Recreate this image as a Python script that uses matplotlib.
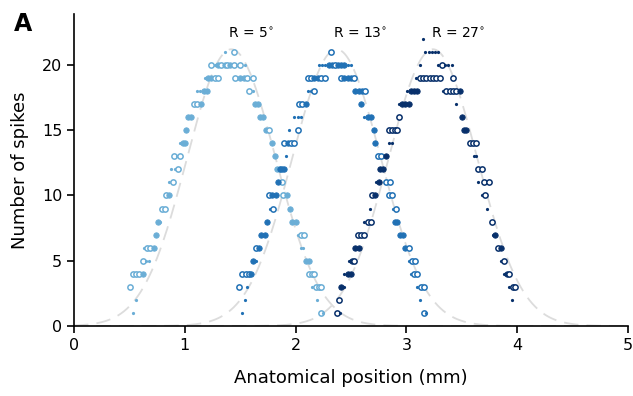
import numpy as np
import matplotlib
matplotlib.use("Agg")
import matplotlib.pyplot as plt

# ---------------- data ----------------
labels = ["R = 5$^{\\circ}$", "R = 13$^{\\circ}$", "R = 27$^{\\circ}$"]
colors = ["#6baed6", "#2171b5", "#08306b"]
label_x = [1.60, 2.58, 3.47]
label_y = 22.4

# tuning-curve parameters (peak position, amplitude, width)
curve_center = [1.42, 2.37, 3.24]
curve_amp = [21.2, 21.2, 21.2]
curve_width = [0.40, 0.40, 0.40]

# spike-count observations: y level, x positions, marker style ('.' dot, 'f' filled, 'o' hollow)
r5_y = [21, 20, 19, 18, 17, 16, 15, 14, 13, 12, 11, 10, 9, 8, 7, 6, 5, 4, 3, 2, 1]
r5_x = [
    [1.36, 1.44],
    [1.24, 1.27, 1.30, 1.33, 1.36, 1.38, 1.41, 1.44, 1.47, 1.50, 1.54],
    [1.18, 1.21, 1.24, 1.27, 1.30, 1.45, 1.50, 1.53, 1.56, 1.59, 1.62],
    [1.11, 1.14, 1.17, 1.20, 1.58, 1.62],
    [1.08, 1.11, 1.15, 1.63, 1.66],
    [1.03, 1.06, 1.68, 1.71],
    [1.01, 1.73, 1.76],
    [0.96, 0.98, 1.00, 1.79],
    [0.90, 0.93, 0.96, 1.81],
    [0.88, 0.91, 0.94, 1.83, 1.86],
    [0.86, 0.89, 1.88],
    [0.83, 0.86, 1.89, 1.92],
    [0.79, 0.82, 1.95],
    [0.76, 0.78, 1.97, 2.00],
    [0.74, 2.02, 2.05, 2.08],
    [0.63, 0.66, 0.69, 0.72, 2.05, 2.07],
    [0.62, 0.65, 0.68, 2.09, 2.12],
    [0.53, 0.56, 0.59, 0.62, 2.12, 2.15, 2.17],
    [0.51, 2.15, 2.18, 2.21, 2.23],
    [0.56, 2.19],
    [0.53, 2.23, 2.25],
]
r5_m = [".o", "o.fofofo.o.", ".ffoooffo.o", "..ffo.", "ooff" + "f", "ffff", "ffo",
        ".fff", "o.of", "..off", ".oo", "ofof", "oof", "f.ff", "f.oo", ".oof..", "o..ff", "ooofooo",
        "o.ooo", "..", ".o."]

r13_y = [21, 20, 19, 18, 17, 16, 15, 14, 13, 12, 11, 10, 9, 8, 7, 6, 5, 4, 3, 2, 1]
r13_x = [
    [2.32],
    [2.21, 2.24, 2.27, 2.30, 2.33, 2.36, 2.38, 2.41, 2.44, 2.47, 2.50],
    [2.11, 2.14, 2.17, 2.20, 2.23, 2.27, 2.41, 2.44, 2.47, 2.50, 2.53],
    [2.11, 2.14, 2.17, 2.54, 2.57, 2.60, 2.63],
    [2.03, 2.06, 2.09, 2.59],
    [1.99, 2.02, 2.05, 2.62, 2.65, 2.68],
    [1.94, 2.02, 2.71],
    [1.90, 1.93, 1.96, 1.99, 2.72],
    [1.91, 2.74, 2.77],
    [1.86, 1.88, 1.90, 2.78],
    [1.84, 2.82, 2.85],
    [1.76, 1.79, 1.82, 2.84, 2.87],
    [1.77, 1.80, 2.88, 2.91],
    [1.74, 2.90, 2.92],
    [1.69, 1.72, 2.94, 2.97],
    [1.64, 1.67, 2.99, 3.02],
    [1.62, 1.64, 3.02, 3.05, 3.08],
    [1.52, 1.55, 1.58, 1.60, 3.04, 3.07, 3.10],
    [1.49, 1.56, 3.10, 3.13, 3.16],
    [1.54, 3.12],
    [1.52, 3.16, 3.18],
]
r13_m = ["o", "...ffofff..", "ooffooofffo", "..offfo", "ooff", "....ff", ".of",
         "ofoof", ".oo", "fff.", "foo", "offoo", ".o.o", "fff", "ffff", "offo", "f..oo",
         "ooof.oo", "o..oo", "..", ".o."]

r27_y = [22, 21, 20, 19, 18, 17, 16, 15, 14, 13, 12, 11, 10, 9, 8, 7, 6, 5, 4, 3, 2, 1]
r27_x = [
    [3.15],
    [3.17, 3.20, 3.23, 3.26, 3.29],
    [3.12, 3.29, 3.32, 3.35, 3.38, 3.41],
    [3.09, 3.12, 3.15, 3.18, 3.21, 3.24, 3.27, 3.30, 3.42],
    [3.01, 3.04, 3.07, 3.10, 3.33, 3.36, 3.39, 3.42, 3.45, 3.48],
    [2.93, 2.96, 2.99, 3.02, 3.45],
    [2.93, 3.50],
    [2.84, 2.87, 2.90, 2.92, 3.52, 3.54],
    [2.84, 2.87, 3.57, 3.60, 3.63],
    [2.82, 3.61, 3.63],
    [2.76, 2.79, 3.65, 3.68],
    [2.73, 2.75, 3.65, 3.70, 3.75],
    [2.69, 2.72, 3.68, 3.71],
    [2.67, 3.73],
    [2.62, 2.65, 2.68, 3.77],
    [2.56, 2.59, 2.62, 3.78, 3.80],
    [2.54, 2.57, 3.83, 3.85],
    [2.48, 2.51, 2.53, 3.85, 3.88],
    [2.44, 2.47, 2.50, 3.88, 3.91, 3.93],
    [2.41, 2.44, 3.93, 3.96, 3.98],
    [2.39, 3.95],
    [2.37, 2.40],
]
r27_m = [".", ".....", "..o...", ".oooooooo.", ".fff.oooof", ".fff.", "of", "ooooff", "..ooo",
         "f..", "ffoo", ".f.oo", "of.o", "..", ".ooo", "ooo.f", "ffof", ".fo.o", ".ff.fo",
         "f..oo", "o.", "o."]

tick_x = [0, 1, 2, 3, 4, 5]
tick_y = [0, 5, 10, 15, 20]

# ---------------- drawing ----------------
fig = plt.figure(figsize=(6.33, 3.96), dpi=100)
ax = fig.add_axes([0.1169, 0.1768, 0.8751, 0.7878])

xs = np.linspace(0, 5, 400)
for c, a, w in zip(curve_center, curve_amp, curve_width):
    ax.plot(xs, a * np.exp(-(xs - c) ** 2 / (2 * w ** 2)), color="#dcdcdc",
            lw=1.3, dashes=(8, 4.5), zorder=1)

def draw(ys, xss, ms, color):
    for y, xl, mk in zip(ys, xss, ms):
        for x, s in zip(xl, mk):
            if s == ".":
                ax.plot([x], [y], "o", ms=2.3, mfc=color, mec=color, mew=0, zorder=3)
            elif s == "f":
                ax.plot([x], [y], "o", ms=3.9, mfc=color, mec=color, mew=0.6, zorder=3)
            else:
                ax.plot([x], [y], "o", ms=3.8, mfc="white", mec=color, mew=1.1, zorder=3)

draw(r5_y, r5_x, r5_m, colors[0])
draw(r13_y, r13_x, r13_m, colors[1])
draw(r27_y, r27_x, r27_m, colors[2])

for lx, lab in zip(label_x, labels):
    ax.text(lx, label_y, lab, ha="center", va="center", fontsize=10)

ax.set_xlim(0, 5)
ax.set_ylim(0, 23.9)
ax.set_xticks(tick_x)
ax.set_yticks(tick_y)
ax.tick_params(labelsize=11.5, length=5, width=1.2)
for sp in ["top", "right"]:
    ax.spines[sp].set_visible(False)
for sp in ["left", "bottom"]:
    ax.spines[sp].set_linewidth(1.2)
ax.set_xlabel("Anatomical position (mm)", fontsize=13, labelpad=12)
ax.set_ylabel("Number of spikes", fontsize=13, labelpad=9)
fig.text(0.022, 0.94, "A", fontsize=17, fontweight="bold", va="center", ha="left")

fig.savefig("out.png", dpi=100)
